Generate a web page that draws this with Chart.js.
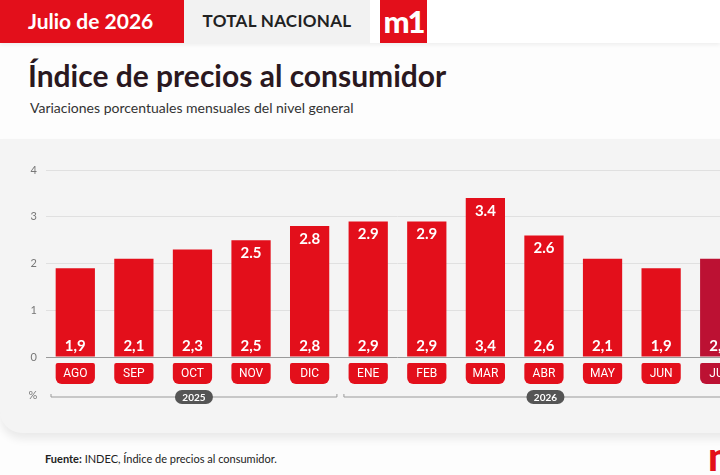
<!DOCTYPE html>
<html lang="es">
<head>
<meta charset="utf-8">
<script src="https://cdn.jsdelivr.net/npm/chart.js@4.4.1/dist/chart.umd.min.js"></script>
<style>
  html, body { margin: 0; padding: 0; }
  body {
    width: 720px; height: 475px; overflow: hidden; position: relative;
    background: #fdfdfd; font-family: "Lato", "Inter", sans-serif;
  }
  .top { position: absolute; left: 0; top: 0; width: 720px; height: 43px; background: #fff;
         box-shadow: 0 2px 4px rgba(0,0,0,0.06); }
  .fecha { position: absolute; left: 0; top: 0; width: 184px; height: 43px; background: #e30f1b;
           color: #fff; font: 700 21px "Lato", sans-serif; line-height: 41px; padding-left: 28px; box-sizing: border-box; }
  .ambito { position: absolute; left: 184px; top: 0; width: 186px; height: 43px; background: #f2f2f2;
            color: #222; font: 700 17px "Lato", sans-serif; line-height: 41px; text-align: center; letter-spacing: 0.3px; }
  .logo { position: absolute; left: 380px; top: 0; width: 47px; height: 43px; background: #e30f1b;
          color: #fff; font: 900 31px "Lato", sans-serif; line-height: 43px; text-align: center; letter-spacing: -2px; }
  h1 { position: absolute; left: 28px; top: 57px; margin: 0; font: 700 30px "Lato", sans-serif; color: #2a1820; }
  .sub { position: absolute; left: 30px; top: 99px; font: 400 14px "Lato", sans-serif; color: #333; }
  .panel { position: absolute; left: 0; top: 139px; width: 760px; height: 294px; background: #f4f4f4;
           border-bottom-left-radius: 22px; box-shadow: 0 6px 8px rgba(0,0,0,0.08); }
  #wrap { position: absolute; left: 0; top: 139px; width: 752px; height: 290px; }
  .fuente { position: absolute; left: 45px; top: 452px; font: 400 11px "Lato", sans-serif; color: #222; }
  .fuente b { font-weight: 700; }
  .mark { position: absolute; left: 708px; top: 432px; font: 900 40px "Lato", sans-serif; color: #e30f1b; }
</style>
</head>
<body>
<div class="top"></div>
<div class="fecha">Julio de 2026</div>
<div class="ambito">TOTAL NACIONAL</div>
<div class="logo">m1</div>
<h1>Índice de precios al consumidor</h1>
<div class="sub">Variaciones porcentuales mensuales del nivel general</div>
<div class="panel"></div>
<div id="wrap"><canvas id="ipc" width="752" height="290"></canvas></div>
<div class="fuente"><b>Fuente:</b> INDEC, Índice de precios al consumidor.</div>
<div class="mark">m</div>

<script>
const months = ["AGO", "SEP", "OCT", "NOV", "DIC", "ENE", "FEB", "MAR", "ABR", "MAY", "JUN", "JUL"];
const values = [1.9, 2.1, 2.3, 2.5, 2.8, 2.9, 2.9, 3.4, 2.6, 2.1, 1.9, 2.1];
const showTop = [false, false, false, true, true, true, true, true, true, false, false, false];
const years = ["2025", "2026"];
const yearFirst = [0, 5];   // first month index of each year
const yearLast = [4, 11];
const yTicks = [0, 1, 2, 3, 4];

const RED = "#e30f1b";
const DARK = "#bc1133";
const barColors = months.map((m, i) => (i === months.length - 1 ? DARK : RED));

// labels inside the bars, month pills and year brackets
const decorations = {
  id: "decorations",
  afterDatasetsDraw(chart) {
    const ctx = chart.ctx;
    const meta = chart.getDatasetMeta(0);
    const yScale = chart.scales.y;
    const xScale = chart.scales.x;
    const base = yScale.getPixelForValue(0);

    ctx.save();
    ctx.textAlign = "center";
    ctx.textBaseline = "middle";
    meta.data.forEach((bar, i) => {
      const w = bar.width;
      // bottom value, comma decimal
      ctx.fillStyle = "#fff";
      ctx.font = "700 15px Lato, sans-serif";
      ctx.fillText(values[i].toFixed(1).replace(".", ","), bar.x, base - 11);
      if (showTop[i]) {
        ctx.fillText(values[i].toFixed(1), bar.x, bar.y + 13);
      }
      // month pill
      ctx.fillStyle = barColors[i];
      ctx.beginPath();
      ctx.roundRect(bar.x - w / 2, base + 6, w, 21, [2, 2, 6, 6]);
      ctx.fill();
      ctx.fillStyle = "#fff";
      ctx.font = "400 12px 'Liberation Sans Narrow', 'Roboto', sans-serif";
      ctx.fillText(months[i], bar.x, base + 17);
    });

    // "%" under the axis labels
    ctx.fillStyle = "#777";
    ctx.font = "400 11px Lato, sans-serif";
    ctx.fillText("%", 33, base + 38);

    // year brackets
    const yy = base + 40;
    const half = (xScale.getPixelForValue(1) - xScale.getPixelForValue(0)) / 2;
    years.forEach((yr, k) => {
      const x1 = xScale.getPixelForValue(yearFirst[k]) - half + 5;
      const x2 = xScale.getPixelForValue(yearLast[k]) + half - 2;
      ctx.strokeStyle = "#9a9a9a";
      ctx.lineWidth = 1;
      ctx.beginPath();
      ctx.moveTo(x1, yy - 3);
      ctx.lineTo(x1, yy);
      ctx.lineTo(x2, yy);
      ctx.lineTo(x2, yy - 3);
      ctx.stroke();
      const cx = (x1 + x2) / 2;
      ctx.fillStyle = "#555";
      ctx.beginPath();
      ctx.roundRect(cx - 19, yy - 7, 38, 14, 7);
      ctx.fill();
      ctx.fillStyle = "#fff";
      ctx.font = "700 10px Lato, sans-serif";
      ctx.fillText(yr, cx, yy + 0.5);
    });
    ctx.restore();
  }
};

new Chart(document.getElementById("ipc"), {
  type: "bar",
  data: {
    labels: months,
    datasets: [{
      data: values,
      backgroundColor: barColors,
      borderWidth: 0,
      barPercentage: 0.67,
      categoryPercentage: 1
    }]
  },
  options: {
    responsive: false,
    animation: false,
    events: [],
    layout: { padding: { top: 31, bottom: 72, right: 3, left: 0 } },
    plugins: { legend: { display: false }, tooltip: { enabled: false } },
    scales: {
      x: { display: false },
      y: {
        min: 0,
        max: 4,
        afterFit: (s) => { s.width = 46; },
        afterBuildTicks: (s) => { s.ticks = yTicks.map((v) => ({ value: v })); },
        border: { display: false },
        grid: {
          drawTicks: false,
          color: (c) => (c.tick && c.tick.value === 0 ? "#9a9a9a" : "#e0e0e0"),
          lineWidth: 1
        },
        ticks: {
          padding: 9,
          color: "#777",
          font: { family: "Lato", size: 11 }
        }
      }
    }
  },
  plugins: [decorations]
});
</script>
</body>
</html>
